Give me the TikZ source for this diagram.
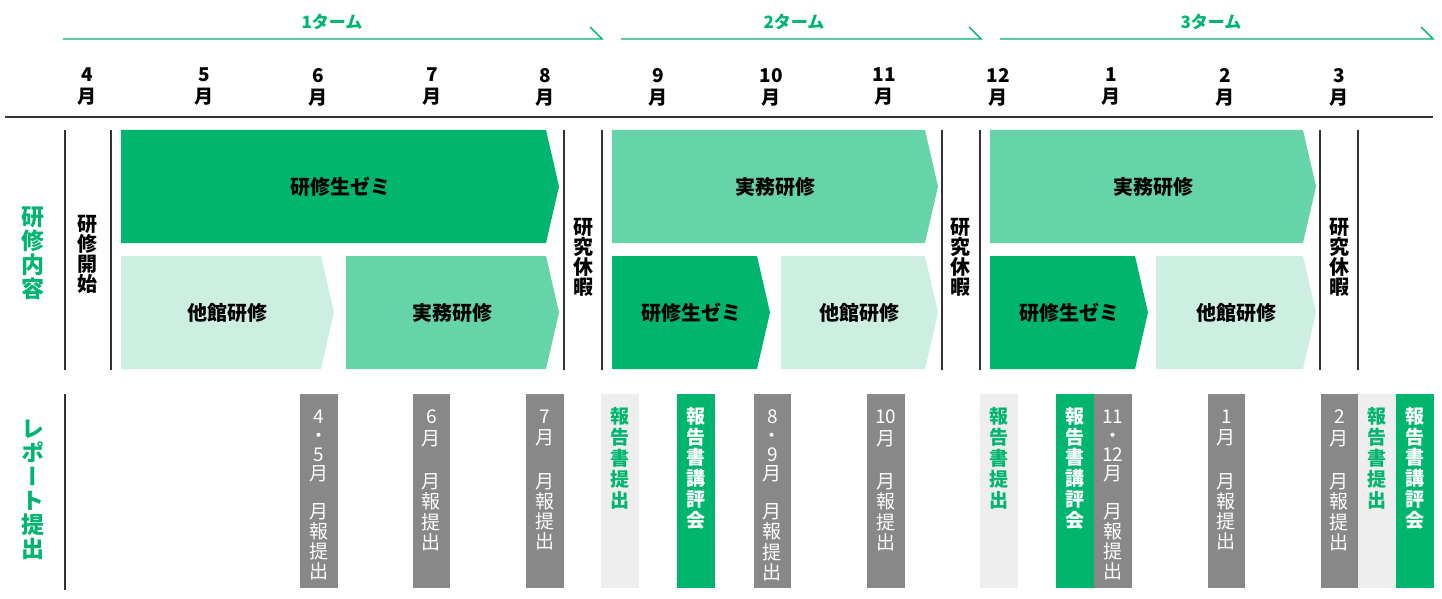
\documentclass[tikz,border=0pt]{standalone}
\usepackage{fontspec}
\setmainfont{Noto Sans CJK JP}
\newfontfamily\jpv{Noto Sans CJK JP}[RawFeature=+vert]
\definecolor{dkgreen}{HTML}{00B66F}
\definecolor{mdgreen}{HTML}{66D4A9}
\definecolor{ltgreen}{HTML}{CCEFE1}
\definecolor{bargray}{HTML}{888888}
\definecolor{barlight}{HTML}{EEEEEE}
\definecolor{linec}{HTML}{333333}
\newcommand\chev[7]{%
  \fill[#6] (#2,#4) -- ({#3-13},#4) -- (#3,{(#4+#5)/2}) -- ({#3-13},#5) -- (#2,#5) -- cycle;
  \node[chevlabel] (#1) at ({(#2+#3)/2},{(#4+#5)/2}) {#7};
}
\newcommand\rbar[5]{%
  \fill[#3] (#2,394) rectangle ({#2+37.8},588);
  \node[#4] (#1) at ({#2+18.9},#5) {\barcontent};
}
\begin{document}
\begin{tikzpicture}[x=1pt,y=-1pt,
  vline/.style={draw=linec, line width=1.3pt},
  hline/.style={draw=linec, line width=1.3pt},
  termline/.style={draw=dkgreen, line width=1.4pt},
  termlabel/.style={text=dkgreen, font=\bfseries\fontsize{17}{17}\selectfont, inner sep=0},
  month/.style={font=\bfseries\fontsize{19}{22}\selectfont, align=center, inner sep=0},
  chevlabel/.style={font=\bfseries\fontsize{20}{20}\selectfont, inner sep=0},
  vlabel/.style={font=\jpv\bfseries\fontsize{20}{20}\selectfont, align=center, inner sep=0},
  sidelabel/.style={font=\jpv\bfseries\fontsize{23}{24}\selectfont, text=dkgreen, align=center, inner sep=0},
  graytxt/.style={font=\jpv\fontsize{19}{20}\selectfont, text=white, align=center, inner sep=0, anchor=north},
  greentxt/.style={font=\jpv\bfseries\fontsize{19}{20.8}\selectfont, text=white, align=center, inner sep=0, anchor=north},
  lighttxt/.style={font=\jpv\bfseries\fontsize{19}{21}\selectfont, text=dkgreen, align=center, inner sep=0, anchor=north}
]
\useasboundingbox (0,0) rectangle (1442,599);

% terms
\coordinate (t1a) at (63,39);  \coordinate (t1b) at (602,39); \coordinate (t1c) at (590,27);
\coordinate (t2a) at (621,39); \coordinate (t2b) at (981,39); \coordinate (t2c) at (969,27);
\coordinate (t3a) at (1000,39); \coordinate (t3b) at (1433,39); \coordinate (t3c) at (1421,27);
\draw[termline] (t1a) -- (t1b) -- (t1c);
\draw[termline] (t2a) -- (t2b) -- (t2c);
\draw[termline] (t3a) -- (t3b) -- (t3c);
\node[termlabel] (term1) at (332,22) {1ターム};
\node[termlabel] (term2) at (794,22) {2ターム};
\node[termlabel] (term3) at (1211,22) {3ターム};

% months
\node[month] (m4) at (87,87) {4\\月};
\node[month] (m5) at (204,87) {5\\月};
\node[month] (m6) at (318,87) {6\\月};
\node[month] (m7) at (432,87) {7\\月};
\node[month] (m8) at (545,87) {8\\月};
\node[month] (m9) at (658,87) {9\\月};
\node[month] (m10) at (771,87) {10\\月};
\node[month] (m11) at (884,87) {11\\月};
\node[month] (m12) at (998,87) {12\\月};
\node[month] (m1) at (1111,87) {1\\月};
\node[month] (m2) at (1225,87) {2\\月};
\node[month] (m3) at (1339,87) {3\\月};
\coordinate (hl1) at (5,117); \coordinate (hl2) at (1433,117);
\draw[hline] (hl1) -- (hl2);

% vertical separators
\foreach \x in {65,111,564,602,942,980,1320,1358}{
  \draw[vline] (\x,130) -- (\x,370);
}
\coordinate (lv1) at (65,394); \coordinate (lv2) at (65,590);
\draw[vline] (lv1) -- (lv2);

% side labels
\node[sidelabel] (sl1) at (33,253) {研\\修\\内\\容};
\node[sidelabel] (sl2) at (33,490) {レ\\ポ\\ー\\ト\\提\\出};
\node[vlabel] (start) at (87,254) {研\\修\\開\\始};
\node[vlabel] (br1) at (583,257) {研\\究\\休\\暇};
\node[vlabel] (br2) at (960,257) {研\\究\\休\\暇};
\node[vlabel] (br3) at (1339,257) {研\\究\\休\\暇};

% chevrons
\chev{c1}{121}{559}{130}{243}{dkgreen}{研修生ゼミ}
\chev{c2}{612}{938}{130}{243}{mdgreen}{実務研修}
\chev{c3}{990}{1316}{130}{243}{mdgreen}{実務研修}
\chev{c4}{121}{334}{256}{369}{ltgreen}{他館研修}
\chev{c5}{346}{559}{256}{369}{mdgreen}{実務研修}
\chev{c6}{612}{770}{256}{369}{dkgreen}{研修生ゼミ}
\chev{c7}{781}{938}{256}{369}{ltgreen}{他館研修}
\chev{c8}{990}{1148}{256}{369}{dkgreen}{研修生ゼミ}
\chev{c9}{1156}{1316}{256}{369}{ltgreen}{他館研修}

% report bars
\def\barcontent{4\\[-1pt]・\\[-1pt]5\\[-1pt]月\\[18pt]月\\報\\提\\出}
\rbar{r1}{300}{bargray}{graytxt}{410}
\def\barcontent{6\\[1pt]月\\[24pt]月\\報\\提\\出}
\rbar{r2}{412.5}{bargray}{graytxt}{410}
\def\barcontent{7\\[1pt]月\\[24pt]月\\報\\提\\出}
\rbar{r3}{526}{bargray}{graytxt}{410}
\def\barcontent{報\\告\\書\\提\\出}
\rbar{r4}{601}{barlight}{lighttxt}{407}
\def\barcontent{報\\告\\書\\講\\評\\会}
\rbar{r5}{677}{dkgreen}{greentxt}{407}
\def\barcontent{8\\[-1pt]・\\[-1pt]9\\[-1pt]月\\[18pt]月\\報\\提\\出}
\rbar{r6}{753.5}{bargray}{graytxt}{410}
\def\barcontent{10\\[1pt]月\\[24pt]月\\報\\提\\出}
\rbar{r7}{867}{bargray}{graytxt}{410}
\def\barcontent{報\\告\\書\\提\\出}
\rbar{r8}{980}{barlight}{lighttxt}{407}
\def\barcontent{報\\告\\書\\講\\評\\会}
\rbar{r9}{1056}{dkgreen}{greentxt}{407}
\def\barcontent{11\\[-1pt]・\\[-1pt]12\\[-1pt]月\\[18pt]月\\報\\提\\出}
\rbar{r10}{1094}{bargray}{graytxt}{410}
\def\barcontent{1\\[1pt]月\\[24pt]月\\報\\提\\出}
\rbar{r11}{1207.5}{bargray}{graytxt}{410}
\def\barcontent{2\\[1pt]月\\[24pt]月\\報\\提\\出}
\rbar{r12}{1320.5}{bargray}{graytxt}{410}
\def\barcontent{報\\告\\書\\提\\出}
\rbar{r13}{1358}{barlight}{lighttxt}{407}
\def\barcontent{報\\告\\書\\講\\評\\会}
\rbar{r14}{1396}{dkgreen}{greentxt}{407}
\end{tikzpicture}
\end{document}
